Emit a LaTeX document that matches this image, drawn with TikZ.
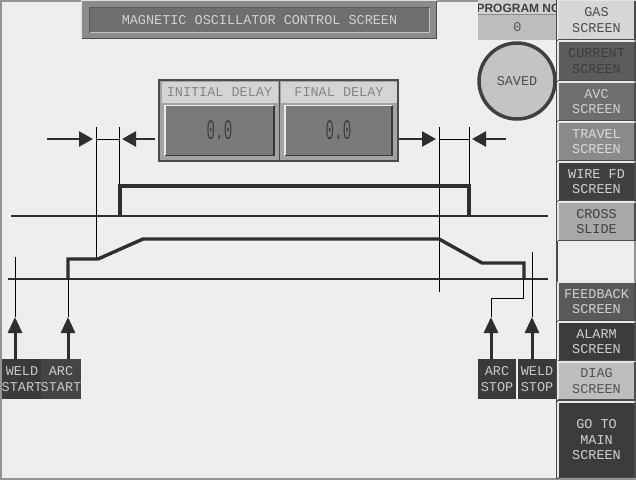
\documentclass[tikz,border=0pt]{standalone}
\usepackage{fontspec}
\usepackage{graphicx}
\setmonofont{Liberation Mono}
\setsansfont{Liberation Sans}
\usetikzlibrary{arrows.meta}
\definecolor{bg}{HTML}{EEEEEE}
\definecolor{ink}{HTML}{2E2E2E}
\definecolor{thin}{HTML}{3A3A3A}
\definecolor{HTML3a}{HTML}{3A3A3A}
\definecolor{HTMLc8}{HTML}{C8C8C8}
\newcommand\bfont{\fontsize{13.5}{15.5}\selectfont\ttfamily}
\newcommand\bvl[3]{%
 \draw[line width=1.4pt,#2] ([xshift=.7pt,yshift=.7pt]#1.south west) -- ([xshift=.7pt,yshift=-.7pt]#1.north west) -- ([xshift=-.7pt,yshift=-.7pt]#1.north east);
 \draw[line width=1.4pt,#3] ([xshift=-.7pt,yshift=-.7pt]#1.north east) -- ([xshift=-.7pt,yshift=.7pt]#1.south east) -- ([xshift=.7pt,yshift=.7pt]#1.south west);}
\tikzset{
 btn/.style={minimum width=78pt,minimum height=#1,inner sep=0pt,font=\bfont,align=center},
 btn/.default=39pt,
 lbl/.style={minimum width=38pt,minimum height=40pt,inner sep=0pt,fill=HTML3a,font=\bfont,align=center,text=HTMLc8},
 sig/.style={line width=3.4pt,ink,line join=miter},
 base/.style={line width=2.2pt,ink},
 guide/.style={line width=1pt,thin},
 harr/.style={line width=2.6pt,ink,-{Triangle[length=14pt,width=15pt]}},
 varr/.style={line width=3pt,ink,-{Triangle[length=16pt,width=14pt]}},
}
\begin{document}
\begin{tikzpicture}[x=1pt,y=-1pt]
\useasboundingbox (0,0) rectangle (636,480);
\fill[bg] (0,0) rectangle (636,480);
\draw[line width=1.6pt,HTML3a!55] (1,1) rectangle (635,479);

% ---- title ----
\node[fill=black!45,minimum width=356pt,minimum height=39pt,inner sep=0pt] (tbox) at (259,19.5) {};
\bvl{tbox}{black!12}{black!70}
\node[fill=black!57,minimum width=341pt,minimum height=26pt,inner sep=0pt,font=\bfont,text=black!18] (title) at (259.5,20) {MAGNETIC OSCILLATOR CONTROL SCREEN};
\bvl{title}{black!65}{black!25}

% ---- program no ----
\node[fill=black!18,minimum width=79pt,minimum height=14pt,inner sep=0pt] (pnl) at (517.5,7) {};
\begin{scope}
\clip (478,0) rectangle (557,14);
\node[font=\fontsize{12}{12}\selectfont\sffamily\bfseries,text=black!75,inner sep=0pt] (pnt) at (518.5,8) {PROGRAM NO};
\end{scope}
\node[fill=black!26,minimum width=79pt,minimum height=25pt,inner sep=0pt,font=\bfont,text=black!65] (pnv) at (517.5,27.5) {0};
\draw[line width=1pt,black!45] (pnl.south west) -- (pnl.south east);

% ---- saved ----
\node[circle,fill=black!23,draw=black!75,line width=3.5pt,minimum size=76pt,inner sep=0pt,font=\bfont,text=black!70] (saved) at (517,81) {SAVED};

% ---- right buttons ----
\draw[line width=1.5pt,black!70] (557,0) -- (557,479);
\node[btn=40pt,fill=black!16,text=black!70] (gas) at (596.5,20) {GAS\\SCREEN};
\node[btn=40pt,fill=black!64,text=black!76] (cur) at (596.5,61) {CURRENT\\SCREEN};
\node[btn,fill=black!57,text=black!18] (avc) at (596.5,101.5) {AVC\\SCREEN};
\node[btn,fill=black!46,text=black!14] (trv) at (596.5,141.5) {TRAVEL\\SCREEN};
\node[btn,fill=black!75,text=black!19] (wfd) at (596.5,181.5) {WIRE FD\\SCREEN};
\node[btn,fill=black!34,text=black!75] (crs) at (596.5,221.5) {CROSS\\SLIDE};
\node[btn,fill=black!65,text=black!18] (fbk) at (596.5,301.5) {FEEDBACK\\SCREEN};
\node[btn,fill=black!77,text=black!19] (alm) at (596.5,341.5) {ALARM\\SCREEN};
\node[btn,fill=black!26,text=black!68] (dig) at (596.5,381) {DIAG\\SCREEN};
\node[btn=76pt,fill=black!77,text=black!19] (gtm) at (596.5,440) {GO TO\\MAIN\\SCREEN};
\foreach \b in {gas,cur,avc,trv,wfd,crs,fbk,alm,dig,gtm}{\bvl{\b}{white!90!black}{black!70}}

% ---- delay boxes ----
\node[fill=black!36,draw=black!70,line width=1.5pt,minimum width=239pt,minimum height=81pt,inner sep=0pt] (dframe) at (278.5,120.5) {};
\draw[line width=1.5pt,black!70] (279.5,80) -- (279.5,161);
\node[fill=black!17,minimum width=116pt,minimum height=21pt,inner sep=0pt,font=\bfont,text=black!48] (ihd) at (219.5,92) {INITIAL DELAY};
\node[fill=black!17,minimum width=116pt,minimum height=21pt,inner sep=0pt,font=\bfont,text=black!48] (fhd) at (339,92) {FINAL DELAY};
\node[fill=black!52,minimum width=110pt,minimum height=51pt,inner sep=0pt,font=\bfont,text=black!75] (ival) at (219.5,130.5) {\scalebox{1.05}[2.1]{0.0}};
\node[fill=black!52,minimum width=108pt,minimum height=51pt,inner sep=0pt,font=\bfont,text=black!75] (fval) at (338.5,130.5) {\scalebox{1.05}[2.1]{0.0}};
\bvl{ival}{black!8}{black!78}
\bvl{fval}{black!8}{black!78}

% ---- timing coordinates ----
\coordinate (g1t) at (96,127);  \coordinate (g1b) at (96,258);
\coordinate (g2t) at (119,127); \coordinate (g2b) at (119,186);
\coordinate (g3t) at (439,127); \coordinate (g3b) at (439,292);
\coordinate (g4t) at (469,127); \coordinate (g4b) at (469,186);
\coordinate (l1) at (96,139); \coordinate (l2) at (119,139);
\coordinate (r1) at (439,139); \coordinate (r2) at (469,139);
\coordinate (a1s) at (47,139);  \coordinate (a1e) at (93,139);
\coordinate (a2s) at (155,139); \coordinate (a2e) at (122,139);
\coordinate (a3s) at (398,139); \coordinate (a3e) at (436,139);
\coordinate (a4s) at (506,139); \coordinate (a4e) at (472,139);

% guides
\draw[guide] (g1t) -- (g1b);
\draw[guide] (g2t) -- (g2b);
\draw[guide] (g3t) -- (g3b);
\draw[guide] (g4t) -- (g4b);
\draw[guide] (l1) -- (l2);
\draw[guide] (r1) -- (r2);
% horizontal arrows
\draw[harr] (a1s) -- (a1e);
\draw[harr] (a2s) -- (a2e);
\draw[harr] (dframe.east |- a3s) -- (a3e);
\draw[harr] (a4s) -- (a4e);

% upper signal
\coordinate (ub0) at (11,216); \coordinate (ub1) at (548,216);
\draw[base] (ub0) -- (ub1);
\draw[sig] (120,216) -- (120,186) -- (469,186) -- (469,216);

% lower signal
\coordinate (lb0) at (8,279); \coordinate (lb1) at (548,279);
\draw[base] (lb0) -- (lb1);
\draw[sig] (68,279) -- (68,259) -- (98,259) -- (143,239) -- (439,239) -- (482,263) -- (524,263) -- (524,279);

% ---- labels and event arrows ----
\node[lbl] (ws) at (22,379) {WELD\\START};
\node[lbl,fill=HTML3a!95!white] (as) at (61,379) {ARC\\START};
\node[lbl] (asp) at (497,379) {ARC\\STOP};
\node[lbl] (wsp) at (537,379) {WELD\\STOP};

\coordinate (wst) at (15,257);  \coordinate (wsh) at (15,317);
\coordinate (ast) at (68,279);  \coordinate (ash) at (68,317);
\coordinate (wpt) at (532,252); \coordinate (wph) at (532,317);
\coordinate (apt) at (523,279); \coordinate (aph) at (491,317);

\draw[guide] (wst) -- (wsh);
\draw[guide] (ast) -- (ash);
\draw[guide] (wpt) -- (wph);
\draw[guide] (apt) -- (523,298) -- (491,298) -- (aph);

\draw[varr] (ws.north -| wsh) -- (wsh);
\draw[varr] (as.north -| ash) -- (ash);
\draw[varr] (asp.north -| aph) -- (aph);
\draw[varr] (wsp.north -| wph) -- (wph);
\end{tikzpicture}
\end{document}
